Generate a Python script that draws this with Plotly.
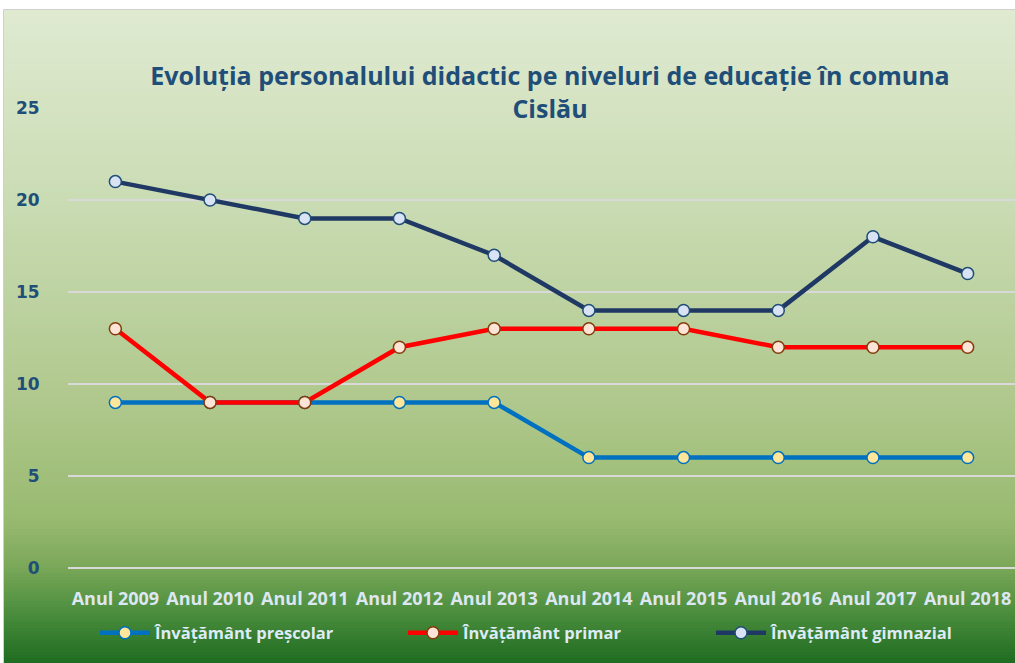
import plotly.graph_objects as go

years = ["Anul 2009", "Anul 2010", "Anul 2011", "Anul 2012", "Anul 2013",
         "Anul 2014", "Anul 2015", "Anul 2016", "Anul 2017", "Anul 2018"]
prescolar = [9, 9, 9, 9, 9, 6, 6, 6, 6, 6]
primar = [13, 9, 9, 12, 13, 13, 13, 12, 12, 12]
gimnazial = [21, 20, 19, 19, 17, 14, 14, 14, 18, 16]

W, H = 1015, 663
# plot area in page pixels: x 68..1015, y 108..568
L, R, T, B = 68, 0, 108, 663 - 568
pw, ph = W - L - R, H - T - B

def px2x(x):
    return (x - L) / pw

def px2y(y):
    return (H - B - y) / ph

# gradient stops (pixel y, rgb)
stops = [(10, (223, 234, 209)), (200, (202, 220, 180)), (400, (176, 200, 141)),
         (520, (152, 186, 112)), (565, (124, 168, 90)), (605, (82, 146, 66)),
         (663, (30, 108, 32))]

def col_at(y):
    for (y0, c0), (y1, c1) in zip(stops[:-1], stops[1:]):
        if y0 <= y <= y1:
            t = (y - y0) / (y1 - y0)
            return "rgb(%d,%d,%d)" % tuple(round(a + (b - a) * t) for a, b in zip(c0, c1))
    return "rgb(%d,%d,%d)" % stops[-1][1]

shapes = []
step = 3
y = 10
while y < H:
    y2 = min(y + step, H)
    shapes.append(dict(type="rect", xref="paper", yref="paper", layer="below",
                       x0=px2x(4), x1=px2x(W + 1), y0=px2y(y2 + 0.5), y1=px2y(y),
                       fillcolor=col_at((y + y2) / 2), line=dict(width=0)))
    y = y2
shapes.append(dict(type="rect", xref="paper", yref="paper", layer="below",
                   x0=px2x(3.5), x1=px2x(W + 2), y0=px2y(H + 2), y1=px2y(9.5),
                   fillcolor="rgba(0,0,0,0)", line=dict(width=1, color="#d0d0d0")))

fig = go.Figure()
fig.add_trace(go.Scatter(x=years, y=prescolar, name="Învățământ preșcolar", mode="lines+markers",
                         line=dict(color="#0070c0", width=4.5),
                         marker=dict(size=12, color="#ffe699", line=dict(color="#0070c0", width=1.5))))
fig.add_trace(go.Scatter(x=years, y=primar, name="Învățământ primar", mode="lines+markers",
                         line=dict(color="#ff0000", width=4.5),
                         marker=dict(size=12, color="#fce4d6", line=dict(color="#843c0c", width=1.5))))
fig.add_trace(go.Scatter(x=years, y=gimnazial, name="Învățământ gimnazial", mode="lines+markers",
                         line=dict(color="#1f3864", width=4.5),
                         marker=dict(size=12, color="#dae3f3", line=dict(color="#1f4e79", width=1.5))))

fig.update_layout(
    width=W, height=H,
    margin=dict(l=L, r=R, t=T, b=B, pad=0, autoexpand=False),
    paper_bgcolor="white", plot_bgcolor="rgba(0,0,0,0)",
    shapes=shapes,
    title=dict(text="Evoluția personalului didactic pe niveluri de educație în comuna<br>Cislău",
               x=px2x(550), xref="paper", xanchor="center",
               y=1 - 85 / H, yref="container", yanchor="middle",
               font=dict(family="Open Sans, sans-serif", size=25,
                         color="#1f4e79", weight="bold")),
    xaxis=dict(type="category", range=[-0.5, 9.5], showgrid=False, zeroline=False,
               showline=False, ticks="outside", ticklen=14, tickcolor="rgba(0,0,0,0)",
               automargin=False,
               tickfont=dict(family="Open Sans, sans-serif", size=18,
                             color="#dde7f2", weight="bold")),
    yaxis=dict(range=[0, 25], dtick=5, showgrid=True, gridcolor="#d9d9d9", gridwidth=2,
               zeroline=True, zerolinecolor="#d9d9d9", zerolinewidth=2, showline=False,
               ticks="outside", ticklen=24, tickcolor="rgba(0,0,0,0)", automargin=False,
               tickfont=dict(family="DejaVu Sans", size=17, color="#1f4e79", weight="bold")),
    legend=dict(orientation="h", x=px2x(95), xanchor="left", y=px2y(633), yanchor="middle",
                bgcolor="rgba(0,0,0,0)", entrywidth=243, itemwidth=50,
                font=dict(family="Open Sans, sans-serif", size=16.5,
                          color="#deebf7", weight="bold")),
    showlegend=True,
)

fig.write_html("out.html", config={"displayModeBar": False},
               post_script="document.body.style.margin='0';document.body.style.overflow='hidden';")
